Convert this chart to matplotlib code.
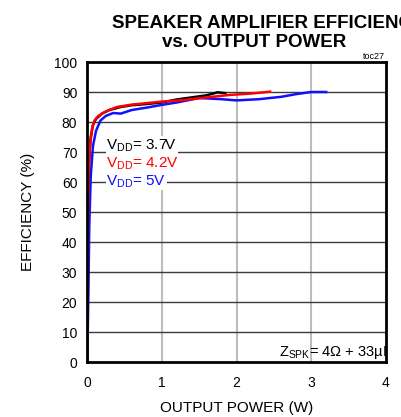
import matplotlib
matplotlib.use('Agg')
import matplotlib.pyplot as plt

plt.rcParams['font.family'] = ['Liberation Sans', 'DejaVu Sans']
plt.rcParams['mathtext.fontset'] = 'custom'
plt.rcParams['mathtext.rm'] = 'Liberation Sans'

# Dados (potência em W, eficiência em %)
p_37 = [0, 0.005, 0.01, 0.02, 0.03, 0.05, 0.08, 0.12, 0.2, 0.3, 0.45, 0.6, 0.8, 1.0, 1.2, 1.4, 1.6, 1.75, 1.85]
ef_37 = [0, 20, 40, 60, 68, 75, 79, 81, 82.8, 84, 85, 85.6, 86, 86.5, 87.5, 88.2, 88.9, 89.9, 89.6]

p_42 = [0, 0.005, 0.01, 0.02, 0.04, 0.07, 0.1, 0.15, 0.25, 0.4, 0.6, 0.8, 1.0, 1.3, 1.6, 1.9, 2.2, 2.45]
ef_42 = [0, 25, 45, 62, 72, 78, 80.5, 82, 83.5, 85, 85.8, 86.3, 86.8, 87.3, 88.2, 89, 89.5, 90.1]

p_5 = [0, 0.01, 0.02, 0.03, 0.05, 0.08, 0.12, 0.18, 0.25, 0.35, 0.45, 0.6, 0.8, 1.0, 1.2, 1.5,
       1.8, 2.0, 2.3, 2.6, 2.8, 3.0, 3.2]
ef_5 = [0, 10, 25, 45, 62, 72, 77, 80.5, 82, 83, 82.8, 84, 84.8, 85.7, 86.5, 88,
        87.6, 87.2, 87.6, 88.4, 89.3, 90, 90]

x_ticks = [0, 1, 2, 3, 4]
y_ticks = [0, 10, 20, 30, 40, 50, 60, 70, 80, 90, 100]

fig = plt.figure(figsize=(4.01, 4.17), dpi=100)
ax = fig.add_axes([87/401, 1 - 362/417, (386-87)/401, (362-62)/417])

for v in x_ticks[1:-1]:
    ax.axvline(v, color='#bdbdbd', lw=1.5, zorder=1)
for v in y_ticks[1:-1]:
    ax.axhline(v, color='#3a3a3a', lw=1.0, zorder=1)

ax.plot(p_37, ef_37, color='black', lw=1.8, zorder=3)
ax.plot(p_5, ef_5, color='#1010ff', lw=1.8, zorder=3)
ax.plot(p_42, ef_42, color='#ff0000', lw=1.8, zorder=4)

ax.set_xlim(0, 4)
ax.set_ylim(0, 100)
ax.set_xticks(x_ticks)
ax.set_yticks(y_ticks)
ax.tick_params(length=0, labelsize=10)
ax.tick_params(axis='x', pad=10)
ax.tick_params(axis='y', pad=7)
for s in ax.spines.values():
    s.set_linewidth(2)
    s.set_zorder(6)

ax.set_xlabel('OUTPUT POWER (W)', fontsize=11, labelpad=8)
ax.set_ylabel('EFFICIENCY (%)', fontsize=11, labelpad=14)

caixa = dict(facecolor='white', edgecolor='none', pad=0.5)
ax.text(0.26, 71, r'V$_{\mathregular{DD}}$= 3.7V', color='black', fontsize=11, bbox=caixa, zorder=5)
ax.text(0.26, 65, r'V$_{\mathregular{DD}}$= 4.2V', color='#ff0000', fontsize=11, bbox=caixa, zorder=5)
ax.text(0.26, 59, r'V$_{\mathregular{DD}}$= 5V', color='#1010ff', fontsize=11, bbox=caixa, zorder=5)
ax.text(2.57, 2, r'Z$_{\mathregular{SPK}}$= 4Ω + 33µH', fontsize=10.5, clip_on=True, zorder=5)

fig.text(112/401, 1 - 28/417, 'SPEAKER AMPLIFIER EFFICIENCY', fontsize=13.5, fontweight='bold',
         ha='left', va='baseline')
fig.text(254/401, 1 - 47/417, 'vs. OUTPUT POWER', fontsize=13.5, fontweight='bold',
         ha='center', va='baseline')
fig.text(385/401, 1 - 59/417, 'toc27', fontsize=6.5, ha='right', va='baseline')

plt.savefig('out.png', dpi=100)
plt.close()
